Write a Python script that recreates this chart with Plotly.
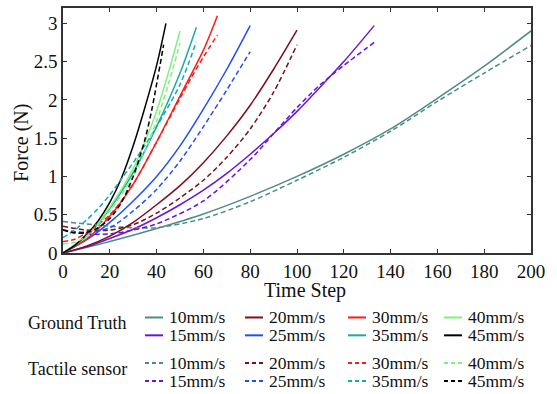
import plotly.graph_objects as go

# ---------------- data ----------------
speeds = ["10mm/s", "15mm/s", "20mm/s", "25mm/s", "30mm/s", "35mm/s", "40mm/s", "45mm/s"]
colors = ["#4f8c87", "#6a14d8", "#7a0f1e", "#1f4ff5", "#ff1a1a", "#1aa9a9", "#80f080", "#000000"]

gt10_t = [0, 20, 40, 60, 80, 100, 120, 140, 160, 180, 200]
gt10_f = [0, 0.15, 0.32, 0.51, 0.74, 1.0, 1.29, 1.62, 2.02, 2.44, 2.9]
ts10_t = [0, 10, 20, 30, 40, 60, 80, 100, 120, 140, 160, 180, 200]
ts10_f = [0.41, 0.38, 0.35, 0.33, 0.33, 0.45, 0.67, 0.95, 1.25, 1.59, 1.98, 2.35, 2.71]

gt15_t = [0, 10, 20, 30, 40, 50, 60, 70, 80, 90, 100, 110, 120, 133]
gt15_f = [0, 0.08, 0.19, 0.31, 0.46, 0.63, 0.82, 1.04, 1.29, 1.56, 1.85, 2.17, 2.5, 2.97]
ts15_t = [0, 10, 20, 30, 40, 60, 80, 90, 100, 110, 120, 133]
ts15_f = [0.3, 0.25, 0.25, 0.3, 0.38, 0.68, 1.22, 1.56, 1.9, 2.2, 2.45, 2.75]

gt20_t = [0, 10, 20, 30, 40, 50, 60, 70, 80, 90, 100]
gt20_f = [0, 0.09, 0.22, 0.4, 0.63, 0.88, 1.18, 1.53, 1.93, 2.4, 2.91]
ts20_t = [0, 10, 20, 30, 40, 50, 60, 70, 80, 90, 100]
ts20_f = [0.35, 0.3, 0.3, 0.37, 0.52, 0.72, 0.95, 1.25, 1.62, 2.1, 2.72]

gt25_t = [0, 10, 20, 30, 40, 50, 60, 70, 80]
gt25_f = [0, 0.17, 0.4, 0.68, 1.0, 1.4, 1.88, 2.4, 2.97]
ts25_t = [0, 10, 20, 30, 40, 50, 60, 70, 80]
ts25_f = [0.3, 0.27, 0.33, 0.55, 0.83, 1.2, 1.65, 2.13, 2.63]

gt30_t = [0, 10, 20, 30, 40, 50, 60, 66]
gt30_f = [0, 0.18, 0.48, 0.9, 1.45, 2.05, 2.65, 3.1]
ts30_t = [0, 5, 10, 20, 30, 40, 50, 55, 60, 66]
ts30_f = [0.15, 0.18, 0.26, 0.5, 0.9, 1.45, 2.02, 2.3, 2.56, 2.85]

gt35_t = [0, 10, 20, 30, 40, 50, 57]
gt35_f = [0, 0.22, 0.58, 1.05, 1.65, 2.35, 2.95]
ts35_t = [0, 5, 10, 15, 20, 25, 30, 40, 50, 57]
ts35_f = [0.2, 0.3, 0.43, 0.58, 0.76, 0.97, 1.18, 1.65, 2.2, 2.76]

gt40_t = [0, 10, 20, 30, 35, 40, 45, 50]
gt40_f = [0, 0.22, 0.6, 1.1, 1.45, 1.85, 2.35, 2.9]
ts40_t = [0, 5, 10, 20, 30, 35, 40, 45, 50]
ts40_f = [0.12, 0.14, 0.22, 0.55, 1.0, 1.33, 1.72, 2.2, 2.74]

gt45_t = [0, 5, 10, 15, 20, 25, 30, 35, 40, 44]
gt45_f = [0, 0.1, 0.24, 0.42, 0.66, 0.98, 1.4, 1.9, 2.45, 3.0]
ts45_t = [0, 5, 10, 15, 20, 25, 30, 35, 38, 43]
ts45_f = [0.3, 0.26, 0.27, 0.33, 0.45, 0.66, 1.0, 1.48, 1.88, 2.72]

gt_t = [gt10_t, gt15_t, gt20_t, gt25_t, gt30_t, gt35_t, gt40_t, gt45_t]
gt_f = [gt10_f, gt15_f, gt20_f, gt25_f, gt30_f, gt35_f, gt40_f, gt45_f]
ts_t = [ts10_t, ts15_t, ts20_t, ts25_t, ts30_t, ts35_t, ts40_t, ts45_t]
ts_f = [ts10_f, ts15_f, ts20_f, ts25_f, ts30_f, ts35_f, ts40_f, ts45_f]

x_ticks = [0, 20, 40, 60, 80, 100, 120, 140, 160, 180, 200]
y_ticks = [0, 0.5, 1, 1.5, 2, 2.5, 3]
y_ticklabels = ["0", "0.5", "1", "1.5", "2", "2.5", "3"]

# ---------------- figure ----------------
W, H = 557, 394
ML, MR, MT, MB = 63, 26, 6, 141
FONT = "Liberation Serif"
DASH = "5px,3px"
TXT = "#111111"

fig = go.Figure()
for i, s in enumerate(speeds):
    fig.add_trace(go.Scatter(x=gt_t[i], y=gt_f[i], mode="lines", name="Ground Truth " + s,
                             line=dict(color=colors[i], width=1.5, shape="spline", smoothing=0.8),
                             showlegend=False))
for i, s in enumerate(speeds):
    fig.add_trace(go.Scatter(x=ts_t[i], y=ts_f[i], mode="lines", name="Tactile sensor " + s,
                             line=dict(color=colors[i], width=1.5, dash=DASH, shape="spline", smoothing=0.8),
                             showlegend=False))

pw, ph = W - ML - MR, H - MT - MB


def px(xp):
    return (xp - ML) / pw


def py(yp):
    return (H - MB - yp) / ph


shapes = []
annotations = []

# axis titles
annotations.append(dict(text="Time Step", x=px(305), y=py(291), xref="paper", yref="paper",
                        xanchor="center", yanchor="middle", showarrow=False,
                        font=dict(family=FONT, size=20, color=TXT)))
annotations.append(dict(text="Force (N)", x=px(22), y=py(142), xref="paper", yref="paper",
                        xanchor="center", yanchor="middle", showarrow=False, textangle=-90,
                        font=dict(family=FONT, size=20, color=TXT)))

# manual legend layout
col_sample_x = [145, 245, 348, 444]
group_rows = [(318, 336), (364, 382)]
group_label_y = [324, 370]
group_names = ["Ground Truth", "Tactile sensor"]
order = [[0, 2, 4, 6], [1, 3, 5, 7]]
for g in range(2):
    annotations.append(dict(text=group_names[g], x=px(129), y=py(group_label_y[g]), xref="paper", yref="paper",
                            xanchor="right", yanchor="middle", showarrow=False,
                            font=dict(family=FONT, size=18, color=TXT)))
    for r in range(2):
        yy = group_rows[g][r]
        for c in range(4):
            k = order[r][c]
            x0 = col_sample_x[c]
            shapes.append(dict(type="line", xref="paper", yref="paper",
                               x0=px(x0), x1=px(x0 + 18), y0=py(yy), y1=py(yy),
                               line=dict(color=colors[k], width=2, dash=("solid" if g == 0 else "4px,3px"))))
            annotations.append(dict(text=speeds[k], x=px(x0 + 22), y=py(yy), xref="paper", yref="paper",
                                    xanchor="left", yanchor="middle", showarrow=False,
                                    font=dict(family=FONT, size=17.5, color=TXT)))

fig.update_layout(
    width=W, height=H,
    margin=dict(l=ML, r=MR, t=MT, b=MB),
    paper_bgcolor="white", plot_bgcolor="white",
    showlegend=False,
    font=dict(family=FONT, size=18, color=TXT),
    shapes=shapes, annotations=annotations,
    xaxis=dict(range=[0, 200], tickvals=x_ticks, ticks="inside", ticklen=4, tickcolor="#333",
               showline=True, linecolor="#333", linewidth=1.5, mirror="ticks", showgrid=False,
               zeroline=False, tickfont=dict(family=FONT, size=19, color=TXT)),
    yaxis=dict(range=[0, 3.2], tickvals=y_ticks, ticktext=y_ticklabels, ticks="inside", ticklen=4,
               tickcolor="#333", showline=True, linecolor="#333", linewidth=1.5, mirror="ticks",
               showgrid=False, zeroline=False, tickfont=dict(family=FONT, size=19, color=TXT)),
)

fig.write_html("out.html", config={"displayModeBar": False},
               post_script="document.body.style.margin='0';document.body.style.padding='0';")
